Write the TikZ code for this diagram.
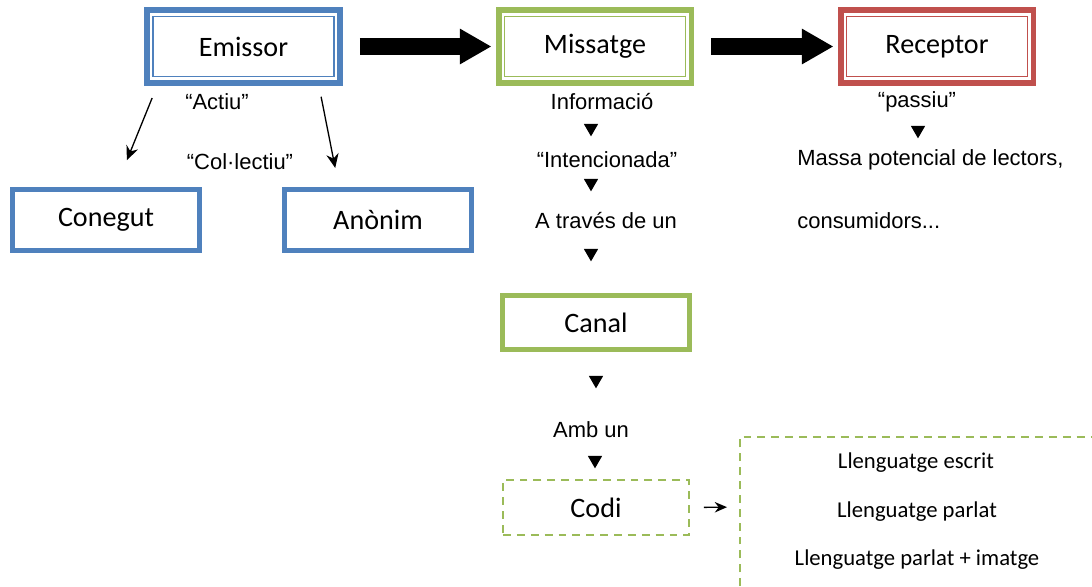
\documentclass[tikz,border=0pt]{standalone}
\usepackage{fontspec}
\setmainfont{Liberation Sans}
\newfontfamily\boxfont{Carlito}
\usetikzlibrary{arrows.meta,shapes.geometric}
\definecolor{offblue}{HTML}{4F81BD}
\definecolor{offgreen}{HTML}{9BBB59}
\definecolor{offred}{HTML}{C0504D}
\tikzset{
  mainbox/.style={draw=#1, line width=3.4pt, minimum width=3.86cm, minimum height=1.46cm, font=\boxfont\fontsize{16}{19}\selectfont},
  subbox/.style={draw=#1, line width=2.8pt, minimum width=3.74cm, minimum height=1.22cm, font=\boxfont\fontsize{16}{19}\selectfont},
  codibox/.style={draw=offgreen, line width=1.1pt, dash pattern=on 4.5pt off 3.4pt, minimum width=3.72cm, minimum height=1.1cm, font=\boxfont\fontsize{16}{19}\selectfont},
  txt/.style={font=\fontsize{12.5}{15}\selectfont, inner sep=0pt},
  lang/.style={font=\boxfont\fontsize{12.9}{15}\selectfont, inner sep=0pt},
  tri/.style={isosceles triangle, isosceles triangle apex angle=60, shape border rotate=-90, fill=black, inner sep=0pt, minimum height=0.25cm},
  bigarrow/.style={line width=10pt, -{Triangle[width=19pt,length=18pt]}},
  thinarrow/.style={line width=0.75pt, -{Stealth[length=8pt,width=7pt]}},
}
\begin{document}
\begin{tikzpicture}[x=0.02cm, y=-0.02cm]
  \useasboundingbox (0,0) rectangle (1092,586);
  \clip (0,0) rectangle (1092,586);
  % top row
  \node[mainbox=offblue] (emi) at (243.5,46.5) {Emissor};
  \node[mainbox=offgreen] (mis) at (595,46.5) {Missatge};
  \node[mainbox=offred] (rec) at (937,46.5) {Receptor};
  \foreach \n/\c in {emi/offblue,mis/offgreen,rec/offred}
    \draw[\c, line width=1pt] ([shift={(0.18cm,-0.19cm)}]\n.north west) rectangle ([shift={(-0.18cm,0.19cm)}]\n.south east);
  \draw[bigarrow, shorten <=9.6pt, shorten >=2.3pt] (emi) -- (mis);
  \draw[bigarrow, shorten <=9.6pt, shorten >=2.3pt] (mis) -- (rec);
  % emissor
  \node[txt] (act) at (217,102) {“Actiu”};
  \node[txt] (col) at (240,162) {“Col·lectiu”};
  \node[subbox=offblue] (con) at (106,220) {Conegut};
  \node[subbox=offblue] (ano) at (378,220) {Anònim};
  \draw[thinarrow, shorten <=0.26cm, shorten >=0.58cm] ([xshift=0.26cm]emi.south west) -- ([xshift=0.2cm]con.north);
  \draw[thinarrow, shorten <=0.22cm, shorten >=0.39cm] ([xshift=-0.48cm]emi.south east) -- ([xshift=-0.78cm]ano.north);
  % missatge
  \node[txt] (inf) at (602,102) {Informació};
  \node[tri] (t1) at (591,128) {};
  \node[txt] (int) at (607,160) {“Intencionada”};
  \node[tri] (t2) at (591,183) {};
  \node[txt] (tra) at (606,221) {A través de un};
  \node[tri] (t3) at (591,253) {};
  \node[subbox=offgreen, minimum height=1.08cm] (can) at (596,322.5) {Canal};
  \node[tri] (t4) at (596,380) {};
  \node[txt] (amb) at (591,430) {Amb un};
  \node[tri] (t5) at (595,460) {};
  \node[codibox] (cod) at (596,507.5) {Codi};
  % codi
  \coordinate (fr) at (740,507);
  \draw[codibox] (740,600) |- (1100,437);
  \draw[thinarrow, -{Stealth[length=7pt,width=6pt]}, shorten <=0.28cm, shorten >=0.26cm] (cod.east) -- (fr);
  \node[lang] (esc) at (916,463) {Llenguatge escrit};
  \node[lang] (par) at (917,512) {Llenguatge parlat};
  \node[lang] (img) at (917,560) {Llenguatge parlat + imatge};
  % receptor
  \node[txt] (pas) at (917,102) {“passiu”};
  \node[tri] (t6) at (918,130) {};
  \node[txt, anchor=west] (mas) at (797,160) {Massa potencial de lectors,};
  \node[txt, anchor=west] (cons) at (797,221) {consumidors...};
\end{tikzpicture}
\end{document}
